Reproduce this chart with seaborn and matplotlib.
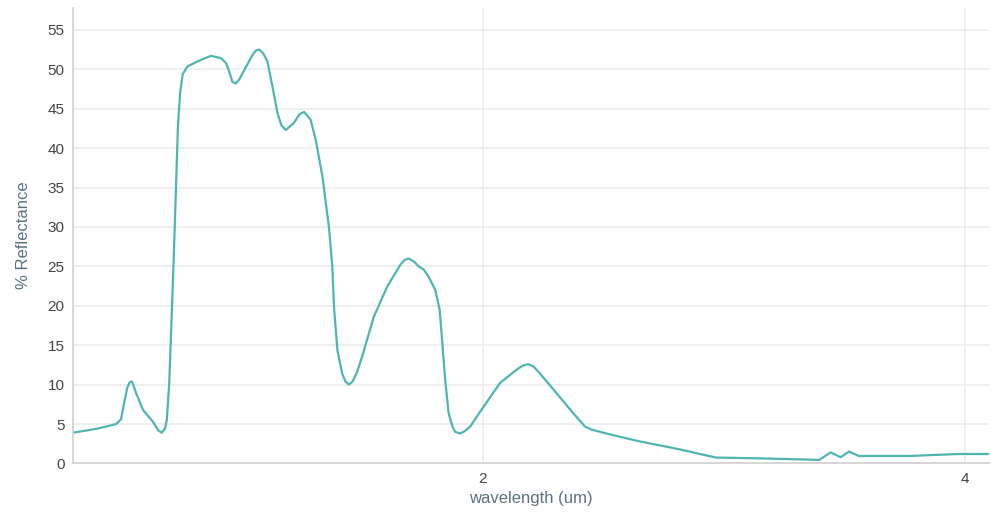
import numpy as np
import pandas as pd
import matplotlib
matplotlib.use("Agg")
import matplotlib.pyplot as plt
import seaborn as sns

# spectrum
wavelength = [0.30, 0.40, 0.48, 0.50, 0.515, 0.526, 0.536, 0.545, 0.553, 0.563, 0.591, 0.632, 0.655, 0.669,
              0.682, 0.69, 0.70, 0.715, 0.722, 0.736, 0.745, 0.756, 0.777, 0.832, 0.873, 0.915, 0.935, 0.949,
              0.962, 0.976, 0.99, 1.011, 1.045, 1.06, 1.073, 1.09, 1.107, 1.128, 1.149, 1.165, 1.183, 1.217,
              1.24, 1.259, 1.286, 1.307, 1.335, 1.362, 1.376, 1.383, 1.397, 1.417, 1.43, 1.445, 1.46, 1.479,
              1.50, 1.548, 1.603, 1.658, 1.675, 1.693, 1.715, 1.734, 1.755, 1.775, 1.803, 1.821, 1.831,
              1.844, 1.858, 1.875, 1.886, 1.906, 1.925, 1.948, 2.003, 2.071, 2.14, 2.165, 2.188, 2.21, 2.237,
              2.306, 2.374, 2.423, 2.45, 2.512, 2.65, 2.815, 2.9, 2.967, 3.146, 3.34, 3.394, 3.442, 3.483,
              3.518, 3.559, 3.766, 3.972, 4.097]
reflectance = [3.9, 4.4, 5.0, 5.6, 8.0, 9.6, 10.3, 10.4, 9.8, 8.9, 6.8, 5.3, 4.2, 3.9,
               4.4, 5.5, 10.2, 22.9, 29.2, 42.7, 47.0, 49.4, 50.4, 51.2, 51.7, 51.4, 50.8, 49.7,
               48.4, 48.2, 48.7, 49.9, 51.8, 52.4, 52.5, 52.0, 51.0, 47.8, 44.4, 42.9, 42.3, 43.2,
               44.3, 44.6, 43.6, 41.1, 36.4, 30.0, 25.0, 19.9, 14.4, 11.4, 10.4, 10.0, 10.4, 11.6,
               13.6, 18.6, 22.4, 25.2, 25.8, 26.0, 25.6, 25.0, 24.6, 23.7, 22.0, 19.5, 15.7,
               10.6, 6.4, 4.6, 4.0, 3.8, 4.1, 4.7, 7.2, 10.2, 11.9, 12.4, 12.6, 12.3, 11.4,
               8.9, 6.4, 4.7, 4.3, 3.8, 2.8, 1.8, 1.2, 0.75, 0.65, 0.5, 0.45, 1.4, 0.8,
               1.5, 0.95, 0.95, 1.2, 1.2]
x_ticks = [2, 4]
y_ticks = [0, 5, 10, 15, 20, 25, 30, 35, 40, 45, 50, 55]

df = pd.DataFrame({"wavelength": wavelength, "reflectance": reflectance})

sns.set_style("white")
plt.rcParams["font.family"] = ["Liberation Sans", "DejaVu Sans"]

fig = plt.figure(figsize=(9.91, 5.19), dpi=100)
ax = fig.add_axes([0.0734, 0.107, 0.925, 0.878])

sns.lineplot(data=df, x="wavelength", y="reflectance", ax=ax, color="#4fb5b0",
             linewidth=1.6, sort=False)

ax.set_xlim(0.3, 4.1)
ax.set_ylim(0, 57.8)
ax.set_xticks(x_ticks)
ax.set_yticks(y_ticks)
ax.grid(True, color="#ebebeb", linewidth=1.1)
ax.tick_params(length=0, labelsize=11, colors="#444444", pad=6)
for side in ["top", "right"]:
    ax.spines[side].set_visible(False)
for side in ["left", "bottom"]:
    ax.spines[side].set_color("#d0d0d0")
    ax.spines[side].set_linewidth(1.2)

ax.set_xlabel("wavelength (um)", fontsize=12, color="#5b7282", labelpad=4)
ax.set_ylabel("% Reflectance", fontsize=12, color="#5b7282", labelpad=12)

fig.savefig("out.png", dpi=100, facecolor="white")
